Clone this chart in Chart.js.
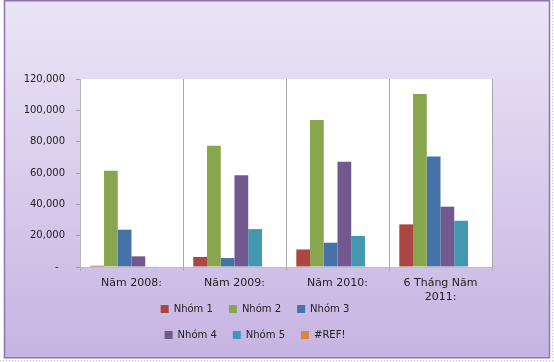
<!DOCTYPE html>
<html>
<head>
<meta charset="utf-8">
<script src="https://cdn.jsdelivr.net/npm/chart.js@4"></script>
<style>
    html, body { margin: 0; padding: 0; background: #fff; }
    canvas { display: block; }
</style>
</head>
<body>
<canvas id="graph" width="554" height="362"></canvas>
<script>
const categories = ['Năm 2008:', 'Năm 2009:', 'Năm 2010:', ['6 Tháng Năm', '2011:']];
const seriesNames = ['Nhóm 1', 'Nhóm 2', 'Nhóm 3', 'Nhóm 4', 'Nhóm 5', '#REF!'];
const nhom1 = [800, 6400, 11200, 27200];
const nhom2 = [61500, 77400, 93800, 110400];
const nhom3 = [23800, 5700, 15500, 70600];
const nhom4 = [6800, 58500, 67200, 38500];
const nhom5 = [400, 24200, 19800, 29500];
const refErr = [300, 0, 0, 0];
const yTicks = [0, 20000, 40000, 60000, 80000, 100000, 120000];

const colors = ['#AA4643', '#89A54E', '#4572A7', '#71588F', '#4198AF', '#DB843D'];
const values = [nhom1, nhom2, nhom3, nhom4, nhom5, refErr];

const FONT = "'DejaVu Sans', sans-serif";
// legend box: 240 wide, centred at x=255, top at y=288
const LEGEND_W = 240, LEGEND_C = 255, LEGEND_TOP = 288, LEGEND_H = 62;

// purple panel behind everything, white plot area
const panel = {
    id: 'panel',
    beforeDraw(chart) {
        const { ctx, chartArea: a } = chart;
        ctx.save();
        const g = ctx.createLinearGradient(0, 0, 0, 358);
        g.addColorStop(0, '#ebe5f5');
        g.addColorStop(1, '#c6b4e2');
        ctx.fillStyle = g;
        ctx.fillRect(4, 0, 546, 358);
        ctx.strokeStyle = '#8f74b2';
        ctx.lineWidth = 1.5;
        ctx.strokeRect(4.5, 0.75, 545, 357);
        ctx.setLineDash([1, 2]);
        ctx.strokeStyle = '#bbb';
        ctx.lineWidth = 1;
        ctx.beginPath();
        ctx.moveTo(0, 360.5); ctx.lineTo(554, 360.5);
        ctx.moveTo(552.5, 0); ctx.lineTo(552.5, 362);
        ctx.stroke();
        ctx.setLineDash([]);
        ctx.fillStyle = '#fff';
        ctx.fillRect(a.left, a.top, a.right - a.left, a.bottom - a.top);
        ctx.restore();
    },
};

// legend in two rows of three, like the original; it takes no room from the axis
const narrowLegend = {
    id: 'narrowLegend',
    beforeLayout(chart) {
        const lg = chart.legend;
        if (lg && !lg._narrow) {
            const orig = lg.update;
            lg.update = function (w, h, m) {
                orig.call(this, LEGEND_W, h, m);
                this.height = 1;
            };
            lg._narrow = true;
        }
    },
    afterLayout(chart) {
        const lg = chart.legend;
        lg.left = LEGEND_C - LEGEND_W / 2;
        lg.right = LEGEND_C + LEGEND_W / 2;
        lg.width = LEGEND_W;
        lg.top = LEGEND_TOP;
        lg.bottom = LEGEND_TOP + LEGEND_H;
        lg.height = LEGEND_H;
    },
};

new Chart('graph', {
    type: 'bar',

    data: {
        labels: categories,
        datasets: seriesNames.map((name, i) => ({
            label: name,
            data: values[i],
            backgroundColor: colors[i],
            borderWidth: 0,
        })),
    },

    options: {
        responsive: false,
        animation: false,
        devicePixelRatio: 1,
        datasets: {
            bar: {
                categoryPercentage: 0.8,
                barPercentage: 1.0,
            },
        },
        layout: {
            padding: { left: 8, right: 62, top: 79, bottom: 0 },
        },

        plugins: {
            tooltip: { enabled: false },
            legend: {
                position: 'bottom',
                labels: {
                    boxWidth: 8,
                    boxHeight: 8,
                    padding: 16,
                    color: '#222',
                    font: { family: FONT, size: 10 },
                },
            },
        },

        scales: {
            x: {
                // 362 - 267 (plot bottom) - 1 (legend stub)
                afterFit: s => { s.height = 94; },
                grid: {
                    offset: true,
                    color: '#a8a8a8',
                    tickLength: 4,
                    drawOnChartArea: true,
                },
                border: { color: '#bdbdbd' },
                ticks: {
                    color: '#222',
                    padding: 6,
                    font: { family: FONT, size: 11 },
                    maxRotation: 0,
                    autoSkip: false,
                },
            },

            y: {
                min: 0,
                max: 120000,
                afterFit: s => { s.width = 72; },
                afterBuildTicks: s => { s.ticks = yTicks.map(v => ({ value: v })); },
                grid: {
                    drawOnChartArea: false,
                    color: '#a0a0a0',
                    tickLength: 4,
                },
                border: { color: '#b8b8b8' },
                ticks: {
                    color: '#222',
                    padding: 11,
                    font: { family: FONT, size: 10 },
                    callback: v => v === 0 ? '-  ' : v.toLocaleString('en-US'),
                },
            },
        },
    },

    plugins: [panel, narrowLegend],
});
</script>
</body>
</html>
